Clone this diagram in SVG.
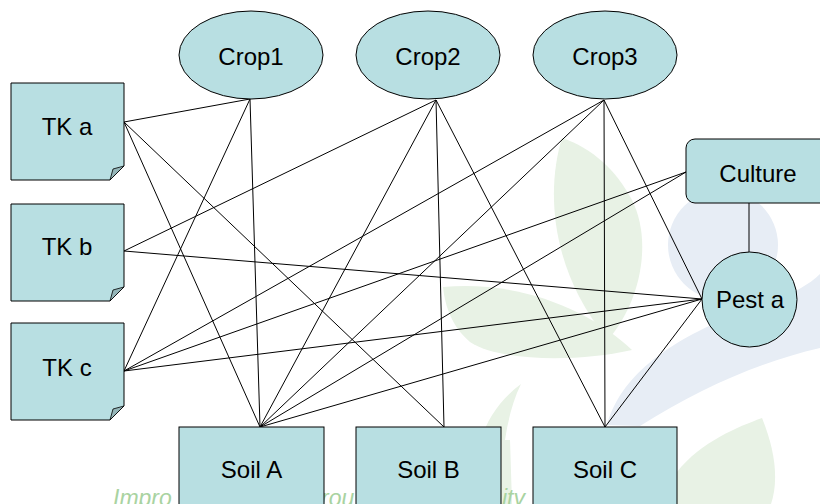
<svg xmlns="http://www.w3.org/2000/svg" width="820" height="504" viewBox="0 0 820 504">
  <defs>
    <style>
      .node { fill: #b8dfe2; stroke: #000; stroke-width: 1; }
      .fold { fill: #94b5b8; stroke: #000; stroke-width: 0.8; }
      .lbl { font-family: "Liberation Sans", Arial, sans-serif; font-size: 24px; fill: #000; text-anchor: middle; }
      .edge { stroke: #000; stroke-width: 1; fill: none; }
      .wm-g { fill: #e8f2e5; }
      .wm-b { fill: #e7edf5; }
      .wm-t { font-family: "Liberation Sans", Arial, sans-serif; font-style: italic; font-size: 23px; fill: #a9d3a1; }
    </style>
    <!-- note shape with folded bottom-right corner, 113 x 97 -->
    <path id="note" d="M0,0 H113 V83 L99,97 H0 Z"/>
    <path id="noteFold" d="M113,83 L102,86 L99,97 Z"/>
  </defs>

  <rect width="820" height="504" fill="#fff"/>

  <!-- faint background artwork -->
  <g id="background-art">
    <circle class="wm-b" cx="723" cy="245" r="55"/>
    <path class="wm-b" d="M607,425 C622,370 682,332 760,306 C790,296 810,284 820,274 L820,348 C760,362 700,388 640,426 Z"/>
    <path class="wm-g" d="M562,138 C546,190 550,270 608,340 C642,300 652,240 632,200 C616,170 592,148 562,138 Z"/>
    <path class="wm-g" d="M443,287 C520,280 590,310 632,350 C580,362 500,362 470,342 C452,327 445,306 443,287 Z"/>
    <path class="wm-g" d="M521,384 C502,398 487,418 481,440 L505,440 C508,420 513,400 521,384 Z"/>
    <path class="wm-g" d="M495,440 L510,440 L512,504 L497,504 Z"/>
    <path class="wm-g" d="M677,472 C700,442 740,426 762,418 C775,450 779,480 771,504 L677,504 Z"/>
    <text class="wm-t" x="113" y="506">Impro</text>
    <text class="wm-t" x="321" y="506">rou</text>
    <text class="wm-t" x="502" y="506">ity</text>
  </g>

  <g id="connectors">
    <line class="edge" x1="124" y1="122" x2="250" y2="99"/>
    <line class="edge" x1="124" y1="122" x2="260" y2="427"/>
    <line class="edge" x1="124" y1="122" x2="444" y2="427"/>
    <line class="edge" x1="124" y1="251" x2="436" y2="100"/>
    <line class="edge" x1="124" y1="251" x2="702" y2="299"/>
    <line class="edge" x1="124" y1="371" x2="250" y2="99"/>
    <line class="edge" x1="124" y1="371" x2="604" y2="100"/>
    <line class="edge" x1="124" y1="371" x2="686" y2="172"/>
    <line class="edge" x1="124" y1="371" x2="702" y2="299"/>
    <line class="edge" x1="250" y1="99" x2="260" y2="427"/>
    <line class="edge" x1="436" y1="100" x2="260" y2="427"/>
    <line class="edge" x1="436" y1="100" x2="444" y2="427"/>
    <line class="edge" x1="436" y1="100" x2="605" y2="427"/>
    <line class="edge" x1="604" y1="100" x2="260" y2="427"/>
    <line class="edge" x1="604" y1="100" x2="605" y2="427"/>
    <line class="edge" x1="604" y1="100" x2="702" y2="299"/>
    <line class="edge" x1="686" y1="172" x2="260" y2="427"/>
    <line class="edge" x1="749" y1="203" x2="749" y2="252"/>
    <line class="edge" x1="702" y1="299" x2="260" y2="427"/>
    <line class="edge" x1="702" y1="299" x2="605" y2="427"/>
  </g>

  <g id="crop1">
    <ellipse class="node" cx="251" cy="55" rx="72" ry="44"/>
    <text class="lbl" x="251" y="65">Crop1</text>
  </g>
  <g id="crop2">
    <ellipse class="node" cx="428" cy="55" rx="72" ry="44"/>
    <text class="lbl" x="428" y="65">Crop2</text>
  </g>
  <g id="crop3">
    <ellipse class="node" cx="605" cy="55" rx="72" ry="44"/>
    <text class="lbl" x="605" y="65">Crop3</text>
  </g>

  <g id="tk-a" transform="translate(11,83)">
    <use href="#note" class="node"/>
    <use href="#noteFold" class="fold"/>
    <text class="lbl" x="56" y="52">TK a</text>
  </g>
  <g id="tk-b" transform="translate(11,204)">
    <use href="#note" class="node"/>
    <use href="#noteFold" class="fold"/>
    <text class="lbl" x="56" y="51">TK b</text>
  </g>
  <g id="tk-c" transform="translate(11,323)">
    <use href="#note" class="node"/>
    <use href="#noteFold" class="fold"/>
    <text class="lbl" x="56" y="53">TK c</text>
  </g>

  <g id="culture">
    <rect class="node" x="686" y="139" width="150" height="64" rx="9"/>
    <text class="lbl" x="758" y="182">Culture</text>
  </g>
  <g id="pest-a">
    <circle class="node" cx="749.5" cy="299.5" r="47.5"/>
    <text class="lbl" x="750" y="308">Pest a</text>
  </g>

  <g id="soil-a">
    <rect class="node" x="179" y="427" width="145" height="90"/>
    <text class="lbl" x="251.5" y="478">Soil A</text>
  </g>
  <g id="soil-b">
    <rect class="node" x="356" y="427" width="145" height="90"/>
    <text class="lbl" x="428.5" y="478">Soil B</text>
  </g>
  <g id="soil-c">
    <rect class="node" x="533" y="427" width="144" height="90"/>
    <text class="lbl" x="605" y="478">Soil C</text>
  </g>
</svg>
